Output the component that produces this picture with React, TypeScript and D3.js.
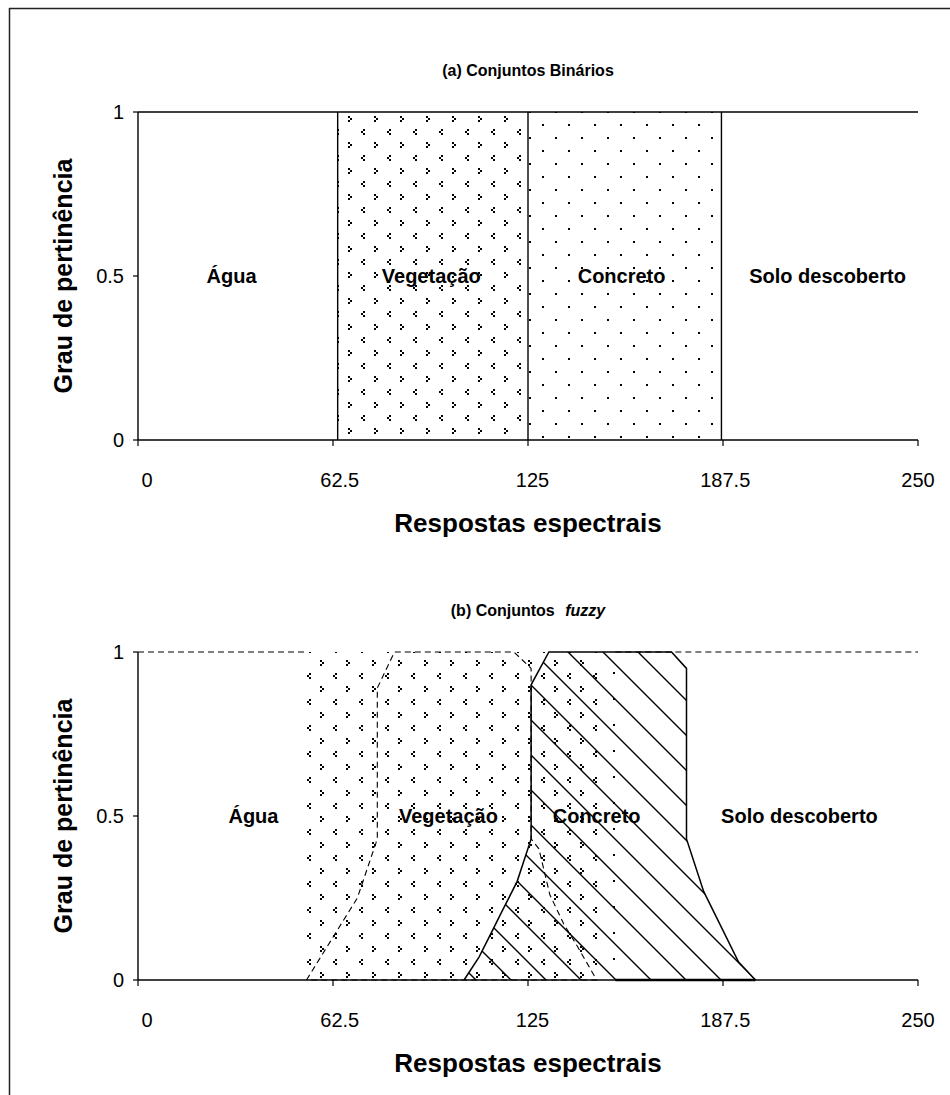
import React from 'react';
import * as d3 from 'd3';

// ---------- data ----------
const xTicks = [0, 62.5, 125, 187.5, 250];
const yTicks = [0, 0.5, 1];
const classNames = ['Água', 'Vegetação', 'Concreto', 'Solo descoberto'];
// crisp (binary) set boundaries on the spectral axis
const crispBounds = [0, 64, 125, 187, 250];
const crispLabelX = [30, 94, 155, 221];
const fuzzyLabelX = [37, 99.5, 147, 212];
// fuzzy membership outlines [response, membership]
const aguaFuzzy: [number, number][] = [[0, 1], [53.5, 1]];
const vegetacaoFuzzy: [number, number][] = [
  [54, 0], [70.3, 0.25], [76.7, 0.43], [76.7, 0.89], [82.2, 1], [120.5, 1], [126, 0.95],
  [126, 0.43], [128.5, 0.4], [132, 0.26], [136.5, 0.17], [141, 0.1], [147, 0], [54, 0],
];
const concretoFuzzy: [number, number][] = [
  [104.5, 0], [109.3, 0.07], [112.5, 0.13], [116.7, 0.21], [121.5, 0.3], [126, 0.43],
  [126, 0.9], [131.7, 1], [171, 1], [175.8, 0.95], [175.8, 0.43], [181.3, 0.27],
  [192.5, 0.055], [197.9, 0],
];
const soloFuzzy: [number, number][] = [[153, 1], [250, 1]];
const concretoBase: [number, number][] = [[153, 0], [197.9, 0]];
const vegetacaoTexture = [54, 150];
const concretoTexture = [104, 153.5];

const FONT = "'Liberation Sans', Arial, Helvetica, sans-serif";
const TILE = 26;

function Patterns({ id, vx, vy, cx, cy, hy }: { id: string; vx: number; vy: number; cx: number; cy: number; hy: number }) {
  const h = TILE / 2;
  return (
    <>
      <pattern id={`veg-${id}`} patternUnits="userSpaceOnUse" width={TILE} height={TILE}
        patternTransform={`translate(${vx},${vy})`}>
        <rect x={0} y={0} width={TILE} height={TILE} fill="#fff" />
        <g fill="#000" shapeRendering="crispEdges">
          {/* ">" glyph */}
          <rect x={0} y={0} width={2} height={2} />
          <rect x={2} y={2} width={2} height={2} />
          <rect x={0} y={4} width={2} height={2} />
          {/* "<" glyph */}
          <rect x={h + 2} y={h} width={2} height={2} />
          <rect x={h} y={h + 2} width={2} height={2} />
          <rect x={h + 2} y={h + 4} width={2} height={2} />
        </g>
      </pattern>
      <pattern id={`dot-${id}`} patternUnits="userSpaceOnUse" width={TILE} height={TILE}
        patternTransform={`translate(${cx},${cy})`}>
        <g fill="#000" shapeRendering="crispEdges">
          <rect x={0} y={0} width={2} height={2} />
          <rect x={h} y={h} width={2} height={2} />
        </g>
      </pattern>
      <pattern id={`hatch-${id}`} patternUnits="userSpaceOnUse" width={35} height={35}
        patternTransform={`translate(0,${hy})`}>
        <path d="M0,0 L35,35 M-2,33 L2,37 M33,-2 L37,2" stroke="#000" strokeWidth={1.4} fill="none" />
      </pattern>
    </>
  );
}

function Axes({ x, xl, y }: { x: d3.ScaleLinear<number, number>; xl: d3.ScaleLinear<number, number>; y: d3.ScaleLinear<number, number> }) {
  const [x0, x1] = x.range();
  const y0 = y(0);
  return (
    <g>
      <line x1={x0} x2={x1} y1={y0} y2={y0} stroke="#000" strokeWidth={1.4} />
      <line x1={x0} x2={x0} y1={y(1)} y2={y0} stroke="#000" strokeWidth={1.4} />
      {xTicks.map((t) => (
        <g key={t}>
          <line x1={x(t)} x2={x(t)} y1={y0} y2={y0 + 6} stroke="#000" strokeWidth={1.2} />
          <text x={xl(t)} y={y0 + 47} textAnchor="middle" fontSize={20} fontFamily={FONT}>{t}</text>
        </g>
      ))}
      {yTicks.map((t) => (
        <g key={t}>
          <line x1={x0 - 5} x2={x0} y1={y(t)} y2={y(t)} stroke="#000" strokeWidth={1.2} />
          <text x={x0 - 14} y={y(t) + 7} textAnchor="end" fontSize={20} fontFamily={FONT}>{t}</text>
        </g>
      ))}
      <text x={(x0 + x1) / 2} y={y0 + 92} textAnchor="middle" fontSize={26} fontWeight="bold" fontFamily={FONT}>
        Respostas espectrais
      </text>
      <text transform={`translate(72,${(y(0) + y(1)) / 2}) rotate(-90)`} textAnchor="middle" fontSize={25}
        fontWeight="bold" fontFamily={FONT}>
        Grau de pertinência
      </text>
    </g>
  );
}

export default function App() {
  const W = 950;
  const H = 1095;
  const x = d3.scaleLinear().domain([0, 250]).range([138, 918]);
  const xl = d3.scaleLinear().domain([0, 250]).range([147, 918]);
  const yA = d3.scaleLinear().domain([0, 1]).range([440, 112]);
  const yB = d3.scaleLinear().domain([0, 1]).range([980, 652]);
  const lineB = d3.line<[number, number]>().x((d) => x(d[0])).y((d) => yB(d[1]));

  const crispFills = ['none', 'url(#veg-a)', 'url(#dot-a)', 'none'];

  return (
    <svg width={W} height={H} style={{ position: 'absolute', left: 0, top: 0, background: '#fff' }}>
      <defs>
        <Patterns id="a" vx={348} vy={116} cx={542} cy={254} hy={0} />
        <Patterns id="b" vx={320} vy={660} cx={613} cy={672} hy={14} />
      </defs>
      <rect x={0} y={0} width={W} height={H} fill="#fff" />
      {/* outer frame */}
      <line x1={9.5} x2={9.5} y1={8} y2={H} stroke="#222" strokeWidth={1.5} />
      <line x1={9} x2={W} y1={8.5} y2={8.5} stroke="#222" strokeWidth={1.5} />

      {/* ---------- (a) crisp sets ---------- */}
      <text x={528} y={76} textAnchor="middle" fontSize={16} fontWeight="bold" fontFamily={FONT}>
        (a) Conjuntos Binários
      </text>
      {classNames.map((c, i) => (
        crispFills[i] !== 'none' ? (
          <rect key={c} x={x(crispBounds[i])} y={yA(1)} width={x(crispBounds[i + 1]) - x(crispBounds[i])}
            height={yA(0) - yA(1)} fill={crispFills[i]} />
        ) : null
      ))}
      <line x1={x(0)} x2={x(250)} y1={yA(1)} y2={yA(1)} stroke="#000" strokeWidth={1.4} />
      {crispBounds.slice(1, -1).map((b) => (
        <line key={b} x1={x(b)} x2={x(b)} y1={yA(1)} y2={yA(0)} stroke="#000" strokeWidth={1.4} />
      ))}
      <Axes x={x} xl={xl} y={yA} />
      {classNames.map((c, i) => (
        <text key={c} x={x(crispLabelX[i])} y={yA(0.5) + 7} textAnchor="middle" fontSize={20} fontWeight="bold"
          fontFamily={FONT}>{c}</text>
      ))}

      {/* ---------- (b) fuzzy sets ---------- */}
      <text x={528} y={616} textAnchor="middle" fontSize={16} fontWeight="bold" fontFamily={FONT}>
        (b) Conjuntos <tspan fontStyle="italic" dx={6}>fuzzy</tspan>
      </text>
      <rect x={x(concretoTexture[0])} y={yB(1)} width={x(concretoTexture[1]) - x(concretoTexture[0])}
        height={yB(0) - yB(1)} fill="url(#dot-b)" />
      <rect x={x(vegetacaoTexture[0])} y={yB(1)} width={x(vegetacaoTexture[1]) - x(vegetacaoTexture[0])}
        height={yB(0) - yB(1)} fill="url(#veg-b)" />
      <path d={lineB(concretoFuzzy) + 'Z'} fill="url(#hatch-b)" stroke="none" />
      <Axes x={x} xl={xl} y={yB} />
      <path d={lineB(aguaFuzzy) || ''} fill="none" stroke="#000" strokeWidth={1.1} strokeDasharray="6,4" />
      <path d={lineB(vegetacaoFuzzy) || ''} fill="none" stroke="#000" strokeWidth={1.1} strokeDasharray="6,4" />
      <path d={lineB(soloFuzzy) || ''} fill="none" stroke="#000" strokeWidth={1.1} strokeDasharray="6,4" />
      <path d={lineB(concretoFuzzy) || ''} fill="none" stroke="#000" strokeWidth={1.5} />
      <path d={lineB(concretoBase) || ''} fill="none" stroke="#000" strokeWidth={2.5} />
      {classNames.map((c, i) => (
        <text key={c} x={x(fuzzyLabelX[i])} y={yB(0.5) + 7} textAnchor="middle" fontSize={20} fontWeight="bold"
          fontFamily={FONT}>{c}</text>
      ))}
    </svg>
  );
}
